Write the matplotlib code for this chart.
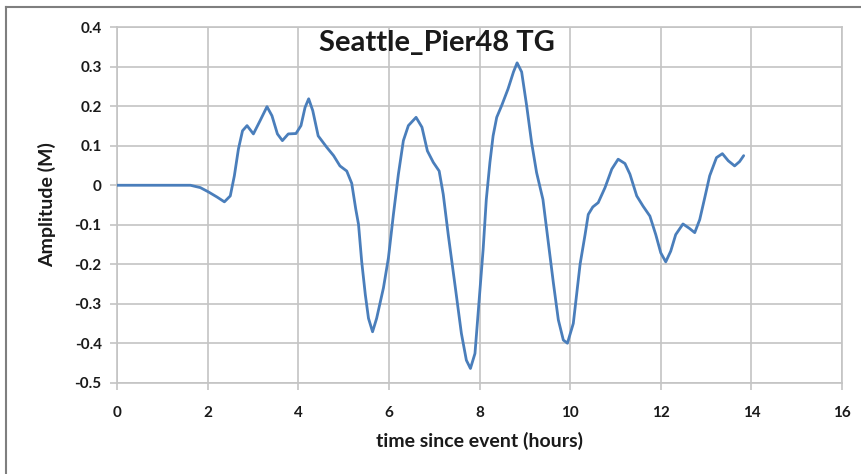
import matplotlib
matplotlib.use('Agg')
import matplotlib.pyplot as plt
import matplotlib.lines as lines

# values (hours, metres)
hours = [
    0.0, 0.5, 1.0, 1.62, 1.84, 2.02, 2.21, 2.37, 2.50, 2.59, 2.68, 2.77,
    2.87, 3.01, 3.16, 3.31, 3.42, 3.54, 3.65, 3.78, 3.95, 4.06, 4.15,
    4.23, 4.32, 4.44, 4.63, 4.78, 4.92, 5.07, 5.18, 5.27, 5.33, 5.40,
    5.48, 5.55, 5.64, 5.73, 5.88, 5.99, 6.10, 6.21, 6.32, 6.43, 6.60,
    6.73, 6.85, 6.98, 7.11, 7.20, 7.31, 7.47, 7.60, 7.71, 7.80, 7.90,
    8.01, 8.08, 8.15, 8.23, 8.30, 8.38, 8.49, 8.63, 8.75, 8.83, 8.93,
    9.04, 9.15, 9.26, 9.40, 9.51, 9.63, 9.74, 9.85, 9.94, 10.07, 10.22,
    10.33, 10.40, 10.50, 10.62, 10.77, 10.92, 11.06, 11.21, 11.32, 11.47,
    11.61, 11.76, 11.89, 12.00, 12.11, 12.22, 12.33, 12.49, 12.63, 12.75,
    12.86, 12.97, 13.08, 13.23, 13.36, 13.49, 13.63, 13.74, 13.83,
]
amplitude = [
    0.0, 0.0, 0.0, 0.0, -0.006, -0.017, -0.03, -0.042, -0.027, 0.024,
    0.092, 0.138, 0.151, 0.13, 0.164, 0.199, 0.176, 0.13, 0.113, 0.13,
    0.131, 0.151, 0.197, 0.219, 0.189, 0.125, 0.096, 0.075, 0.049, 0.036,
    0.005, -0.061, -0.099, -0.193, -0.277, -0.337, -0.371, -0.337, -0.26,
    -0.184, -0.074, 0.028, 0.113, 0.151, 0.172, 0.147, 0.087, 0.058,
    0.036, -0.023, -0.125, -0.262, -0.375, -0.443, -0.464, -0.426,
    -0.265, -0.163, -0.036, 0.058, 0.125, 0.172, 0.202, 0.244, 0.287,
    0.31, 0.287, 0.202, 0.108, 0.032, -0.036, -0.137, -0.247, -0.341,
    -0.392, -0.40, -0.35, -0.20, -0.125, -0.074, -0.055, -0.044, -0.006,
    0.041, 0.066, 0.055, 0.028, -0.027, -0.053, -0.078, -0.125, -0.171,
    -0.194, -0.167, -0.125, -0.098, -0.109, -0.12, -0.087, -0.032, 0.024,
    0.07, 0.08, 0.062, 0.049, 0.06, 0.075,
]
x_ticks = list(range(0, 17, 2))
y_ticks = [0.4, 0.3, 0.2, 0.1, 0, -0.1, -0.2, -0.3, -0.4, -0.5]
y_tick_labels = ['0.4', '0.3', '0.2', '0.1', '0', '-0.1', '-0.2', '-0.3', '-0.4', '-0.5']

LINE_COLOR = '#4a7ebb'
GRID_COLOR = '#c4c4c4'
TEXT_COLOR = '#1a1a1a'

plt.rcParams['font.family'] = ['Lato', 'DejaVu Sans']


def main():
    fig = plt.figure(figsize=(8.61, 4.74), dpi=100)
    ax = fig.add_axes([117 / 861, 1 - 382.7 / 474, 725 / 861, 355.4 / 474])

    ax.plot(hours, amplitude, color=LINE_COLOR, linewidth=2.0,
            solid_joinstyle='round', solid_capstyle='round', zorder=3)

    ax.set_xlim(0, 16)
    ax.set_ylim(-0.5, 0.4)
    ax.set_xticks(x_ticks)
    ax.set_xticklabels([str(t) for t in x_ticks])
    ax.set_yticks(y_ticks)
    ax.set_yticklabels(y_tick_labels)

    ax.grid(True, color=GRID_COLOR, linewidth=1.2)
    ax.set_axisbelow(True)
    for side in ax.spines.values():
        side.set_color(GRID_COLOR)
        side.set_linewidth(1.2)

    ax.tick_params(axis='both', length=5, width=1.2, color=GRID_COLOR,
                   labelsize=11, labelcolor=TEXT_COLOR, pad=6)
    ax.tick_params(axis='x', pad=12)
    for lbl in ax.get_xticklabels() + ax.get_yticklabels():
        lbl.set_fontweight('bold')

    ax.set_xlabel('time since event (hours)', fontsize=14,
                  fontweight='bold', color=TEXT_COLOR, va='center')
    ax.xaxis.set_label_coords(0.5, (382.7 - 441) / 355.4)
    ax.set_ylabel('Amplitude (M)', fontsize=14, fontweight='bold',
                  color=TEXT_COLOR, va='center')
    ax.yaxis.set_label_coords((47 - 117) / 725, 0.5)

    ax.text(0.441, 0.957, 'Seattle_Pier48 TG', transform=ax.transAxes,
            ha='center', va='center', fontsize=21, fontweight='bold',
            color=TEXT_COLOR)

    # outer chart frame (top and left edges visible)
    fig.add_artist(lines.Line2D([6 / 861, 1.0], [1 - 7 / 474, 1 - 7 / 474],
                                color='#7f7f7f', linewidth=1.5))
    fig.add_artist(lines.Line2D([6 / 861, 6 / 861], [0, 1 - 7 / 474],
                                color='#7f7f7f', linewidth=1.5))

    fig.savefig('out.png', dpi=100)


if __name__ == '__main__':
    main()
